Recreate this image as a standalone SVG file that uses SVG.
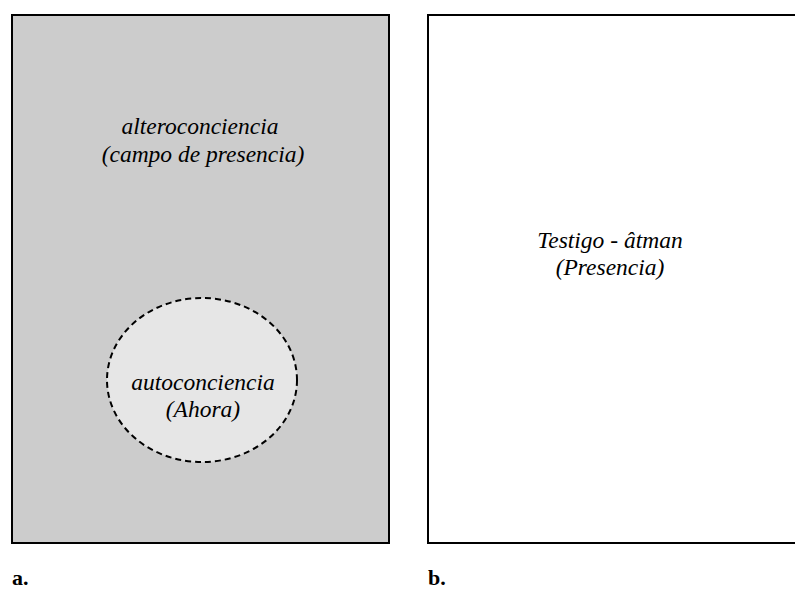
<svg xmlns="http://www.w3.org/2000/svg" width="795" height="591" viewBox="0 0 795 591">
<style>
.box{stroke:#000;stroke-width:2}
.lbl{font-family:"Liberation Serif","Times New Roman",serif;font-style:italic;font-size:23.5px;fill:#000;text-anchor:middle}
.cap{font-family:"Liberation Serif","Times New Roman",serif;font-weight:bold;font-size:22px;fill:#000}
</style>
<rect width="795" height="591" fill="#fff"/>
<g id="panel-a">
<rect class="box" x="12" y="15" width="377" height="528" fill="#cccccc"/>
<text class="lbl" x="200" y="134">alteroconciencia</text>
<text class="lbl" x="203" y="162">(campo de presencia)</text>
</g>
<g id="autoconciencia">
<ellipse cx="202" cy="380" rx="95" ry="82" fill="#e6e6e6" stroke="#000" stroke-width="2" stroke-dasharray="6,4"/>
<text class="lbl" x="203" y="390">autoconciencia</text>
<text class="lbl" x="203" y="417">(Ahora)</text>
</g>
<g id="panel-b">
<rect class="box" x="428" y="15" width="380" height="528" fill="#fff"/>
<text class="lbl" x="610" y="248">Testigo - âtman</text>
<text class="lbl" x="610" y="275">(Presencia)</text>
</g>
<g id="connectors"></g>
<text class="cap" x="12" y="585">a.</text>
<text class="cap" x="428" y="585">b.</text>
</svg>
